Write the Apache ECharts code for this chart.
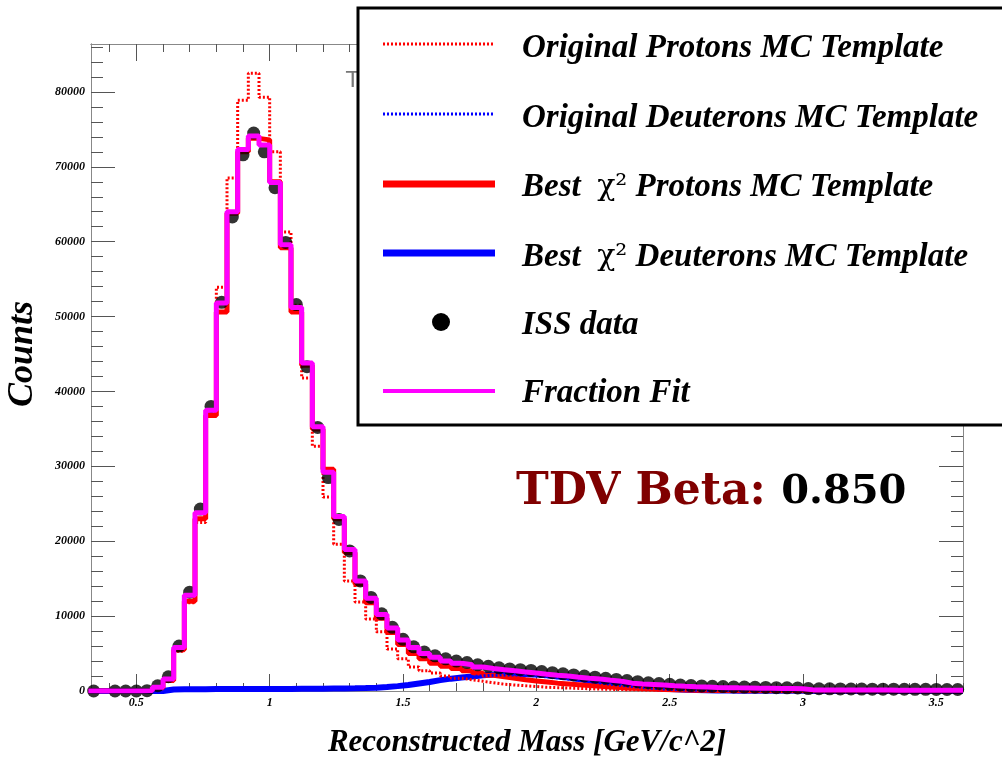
<!DOCTYPE html>
<html>
<head>
<meta charset="utf-8">
<title>Reconstructed Mass - template fit</title>
<script src="https://cdn.jsdelivr.net/npm/echarts@6.0.0/dist/echarts.min.js"></script>
<style>
  html, body { margin: 0; padding: 0; background: #fff; }
  #main { width: 1002px; height: 758px; }
</style>
</head>
<body>
<div id="main"></div>
<script>
// 分箱：从 0.32 开始，每箱 0.04 GeV，共 82 箱
var binLow = 0.32;
var binWidth = 0.04;

// ISS 数据点（null = 空箱）
var issData = [0, null, 0, 0, 0, 50, 700, 1900, 6000, 13200,
  24300, 38000, 51900, 63300, 71600, 74500, 72000, 67200, 59900, 51600,
  43300, 35200, 28500, 22900, 18700, 14700, 12500, 10300, 8500, 6900,
  5900, 5200, 4700, 4300, 4000, 3800, 3500, 3300, 3100, 2950,
  2850, 2750, 2600, 2450, 2300, 2150, 2000, 1850, 1700, 1550,
  1400, 1250, 1100, 1000, 900, 800, 730, 680, 630, 590,
  550, 520, 500, 480, 450, 430, 400, 320, 300, 290,
  280, 270, 260, 250, 240, 240, 230, 220, 220, 210,
  200, 200];

// Fraction Fit
var fitData = [0, 0, 0, 0, 0, 50, 500, 1600, 5800, 12800,
  23800, 37500, 51800, 64000, 72300, 74100, 72900, 67900, 59600, 51200,
  43800, 35300, 29200, 23300, 18900, 14700, 12400, 10200, 8400, 6800,
  5800, 5000, 4500, 4000, 3700, 3500, 3200, 3000, 2850, 2700,
  2550, 2400, 2250, 2100, 2000, 1850, 1700, 1600, 1450, 1300,
  1050, 950, 880, 800, 700, 620, 560, 520, 480, 450,
  420, 400, 380, 360, 340, 320, 300, 150, 150, 140,
  140, 130, 130, 120, 120, 110, 110, 100, 100, 100,
  100, 100];

// Best chi2 质子模板
var bestProtons = [0, 0, 0, 0, 0, 30, 400, 1400, 5500, 12000,
  23000, 36800, 50600, 63800, 72000, 73800, 73600, 68000, 59200, 50600,
  43500, 35000, 29600, 23000, 18500, 14300, 11800, 9700, 7800, 6200,
  5000, 4300, 3700, 3300, 3000, 2700, 2400, 2100, 1900, 1700,
  1500, 1350, 1200, 1050, 950, 850, 750, 650, 550, 450,
  380, 320, 260, 210, 170, 140, 110, 90, 70, 60,
  50, 40, 40, 30, 30, 20, 20, 20, 10, 10,
  10, 10, 10, 0, 0, 0, 0, 0, 0, 0,
  0, 0];

// Best chi2 氘模板
var bestDeuterons = [0, 0, 0, 0, 0, 0, 0, 200, 230, 250,
  250, 260, 260, 270, 270, 270, 280, 280, 280, 290,
  300, 300, 320, 340, 360, 400, 450, 520, 650, 800,
  1000, 1200, 1450, 1650, 1800, 1950, 2100, 2200, 2250, 2300,
  2250, 2200, 2100, 1950, 1800, 1600, 1400, 1200, 1000, 820,
  660, 520, 400, 300, 230, 170, 130, 100, 80, 60,
  50, 40, 30, 30, 20, 20, 20, 10, 10, 10,
  10, 0, 0, 0, 0, 0, 0, 0, 0, 0,
  0, 0];

// 原始质子 MC 模板
var origProtons = [0, 0, 0, 0, 0, 40, 600, 1500, 5300, 11800,
  22500, 37000, 53900, 68500, 78900, 82500, 79300, 72000, 61300, 51500,
  41800, 32700, 25900, 19600, 14700, 11900, 9600, 7900, 5600, 4300,
  3200, 2700, 2400, 2000, 1700, 1500, 1300, 1100, 900, 800,
  700, 600, 500, 450, 400, 350, 300, 260, 220, 190,
  160, 140, 120, 100, 80, 70, 60, 50, 40, 30,
  30, 20, 20, 20, 10, 10, 10, 10, 0, 0,
  0, 0, 0, 0, 0, 0, 0, 0, 0, 0,
  0, 0];

// 原始氘 MC 模板
var origDeuterons = [0, 0, 0, 0, 0, 0, 0, 180, 200, 220,
  230, 230, 240, 240, 250, 250, 260, 260, 270, 280,
  290, 300, 320, 350, 390, 440, 510, 600, 720, 860,
  1020, 1200, 1400, 1600, 1780, 1920, 2030, 2100, 2150, 2150,
  2100, 2020, 1900, 1760, 1600, 1430, 1250, 1070, 900, 740,
  590, 460, 350, 260, 190, 140, 100, 80, 60, 50,
  40, 30, 30, 20, 20, 20, 10, 10, 10, 10,
  0, 0, 0, 0, 0, 0, 0, 0, 0, 0,
  0, 0];

// 坐标轴刻度
var xLabels = [0.5, 1, 1.5, 2, 2.5, 3, 3.5];
var yLabels = [0, 10000, 20000, 30000, 40000, 50000, 60000, 70000, 80000];
var xRange = [0.33, 3.6];
var yRange = [0, 86400];

var serifFont = "'Liberation Serif', 'Times New Roman', serif";

// 次刻度
var xMinor = [];
for (var t = 4; t <= 36; t++) {
  if (t % 5 !== 0) xMinor.push(t / 10);
}
var yMinor = [];
for (var m = 2000; m <= 86000; m += 2000) {
  if (m % 10000 !== 0) yMinor.push(m);
}

//直方图台阶数据：每箱左边缘 + 最后一个右边缘
function stepData(values) {
  var out = [];
  for (var i = 0; i < values.length; i++) {
    out.push([binLow + binWidth * i, values[i]]);
  }
  out.push([binLow + binWidth * values.length, values[values.length - 1]]);
  return out;
}
function pointData(values) {
  var out = [];
  for (var i = 0; i < values.length; i++) {
    if (values[i] === null) continue;
    out.push([binLow + binWidth * (i + 0.5), values[i]]);
  }
  return out;
}

function tickLabel(ticks) {
  return {
    show: true, customValues: ticks, margin: 6,
    fontFamily: serifFont, fontSize: 12, fontStyle: 'italic', fontWeight: 'bold', color: '#000',
    formatter: function (v) { return String(v); }
  };
}
function xAxisOf(pos, ticks, len, withLabel) {
  return {
    type: 'value', position: pos, min: xRange[0], max: xRange[1],
    axisLine: {show: true, onZero: false, lineStyle: {color: '#888', width: 1}},
    axisTick: {show: true, inside: true, length: len, customValues: ticks, lineStyle: {color: '#555'}},
    axisLabel: withLabel ? tickLabel(ticks) : {show: false},
    splitLine: {show: false}
  };
}
function yAxisOf(pos, ticks, len, withLabel) {
  return {
    type: 'value', position: pos, min: yRange[0], max: yRange[1],
    axisLine: {show: true, onZero: false, lineStyle: {color: '#888', width: 1}},
    axisTick: {show: true, inside: true, length: len, customValues: ticks, lineStyle: {color: '#555'}},
    axisLabel: withLabel ? tickLabel(ticks) : {show: false},
    splitLine: {show: false}
  };
}

function stepSeries(name, values, color, width, dash, z) {
  return {
    name: name, type: 'line', step: 'end', data: stepData(values),
    xAxisIndex: 0, yAxisIndex: 0, symbol: 'none', z: z,
    lineStyle: {color: color, width: width, type: dash || 'solid'}
  };
}

var chart = echarts.init(document.getElementById('main'));
var legendFont = 'italic bold 33px ' + serifFont;
var legendRich = {
  g: {fontFamily: '"DejaVu Serif"', fontStyle: 'normal', fontWeight: 'normal', fontSize: 30, fill: '#000'}
};
var topZ = 100;

function legendText(y, text) {
  return {type: 'text', z: topZ, x: 522, y: y, style: {text: text, font: legendFont, fill: '#000', verticalAlign: 'middle', rich: legendRich}};
}
function legendLine(y, color, width, dash) {
  return {type: 'line', z: topZ, shape: {x1: 383, y1: y, x2: 495, y2: y}, style: {stroke: color, lineWidth: width, lineDash: dash || null}};
}

var option = {
  animation: false,
  backgroundColor: '#fff',
  grid: {left: 91, top: 44, right: 39, bottom: 67},
  xAxis: [
    xAxisOf('bottom', xLabels, 17, true),
    xAxisOf('bottom', xMinor, 8, false),
    xAxisOf('top', xLabels, 17, false),
    xAxisOf('top', xMinor, 8, false)
  ],
  yAxis: [
    yAxisOf('left', yLabels, 24, true),
    yAxisOf('left', yMinor, 12, false),
    yAxisOf('right', yLabels, 24, false),
    yAxisOf('right', yMinor, 12, false)
  ],
  series: [
    stepSeries('Best χ2 Deuterons MC Template', bestDeuterons, '#0000ff', 6, null, 2),
    stepSeries('Best χ2 Protons MC Template', bestProtons, '#ff0000', 5, null, 3),
    stepSeries('Original Protons MC Template', origProtons, '#ff0000', 3, [2, 2], 4),
    stepSeries('Original Deuterons MC Template', origDeuterons, '#0000ff', 3, [2, 2], 4),
    {
      name: 'ISS data', type: 'scatter', data: pointData(issData),
      xAxisIndex: 0, yAxisIndex: 0, symbol: 'circle', symbolSize: 13, z: 5,
      itemStyle: {color: '#000'}
    },
    stepSeries('Fraction Fit', fitData, '#ff00ff', 5, null, 6)
  ],
  graphic: [
    //被图例挡住的标题残片
    {type: 'text', x: 346, y: 70, z: 50, style: {text: 'T', font: '22px "DejaVu Sans"', fill: '#777'}},
    //图例
    {type: 'rect', z: topZ, shape: {x: 358, y: 8, width: 660, height: 417}, style: {fill: '#fff', stroke: '#000', lineWidth: 3}},
    legendLine(44, '#ff0000', 3, [2, 2]),
    legendLine(114, '#0000ff', 3, [2, 2]),
    legendLine(184, '#ff0000', 7),
    legendLine(253, '#0000ff', 7),
    {type: 'circle', z: topZ, shape: {cx: 441, cy: 322, r: 9}, style: {fill: '#000'}},
    legendLine(391, '#ff00ff', 4),
    legendText(48, 'Original Protons MC Template'),
    legendText(118, 'Original Deuterons MC Template'),
    legendText(187, 'Best  {g|χ²} Protons MC Template'),
    legendText(257, 'Best  {g|χ²} Deuterons MC Template'),
    legendText(325, 'ISS data'),
    legendText(393, 'Fraction Fit'),
    //TDV Beta 标注
    {
      type: 'text', x: 516, y: 493, z: topZ,
      style: {
        text: '{a|TDV Beta: }{b|0.850}',
        verticalAlign: 'middle',
        rich: {
          a: {fill: '#800000', fontFamily: '"DejaVu Serif"', fontWeight: 'bold', fontSize: 44},
          b: {fill: '#000', fontFamily: '"DejaVu Serif"', fontWeight: 'bold', fontSize: 40}
        }
      }
    },
    //坐标轴标题
    {type: 'text', x: 527, y: 743, z: topZ, style: {text: 'Reconstructed Mass [GeV/c^2]', font: 'italic bold 31px ' + serifFont, fill: '#000', align: 'center', verticalAlign: 'middle'}},
    {type: 'text', x: 23, y: 354, rotation: Math.PI / 2, z: topZ, style: {text: 'Counts', font: 'italic bold 36px ' + serifFont, fill: '#000', align: 'center', verticalAlign: 'middle'}}
  ]
};
chart.setOption(option);
</script>
</body>
</html>
